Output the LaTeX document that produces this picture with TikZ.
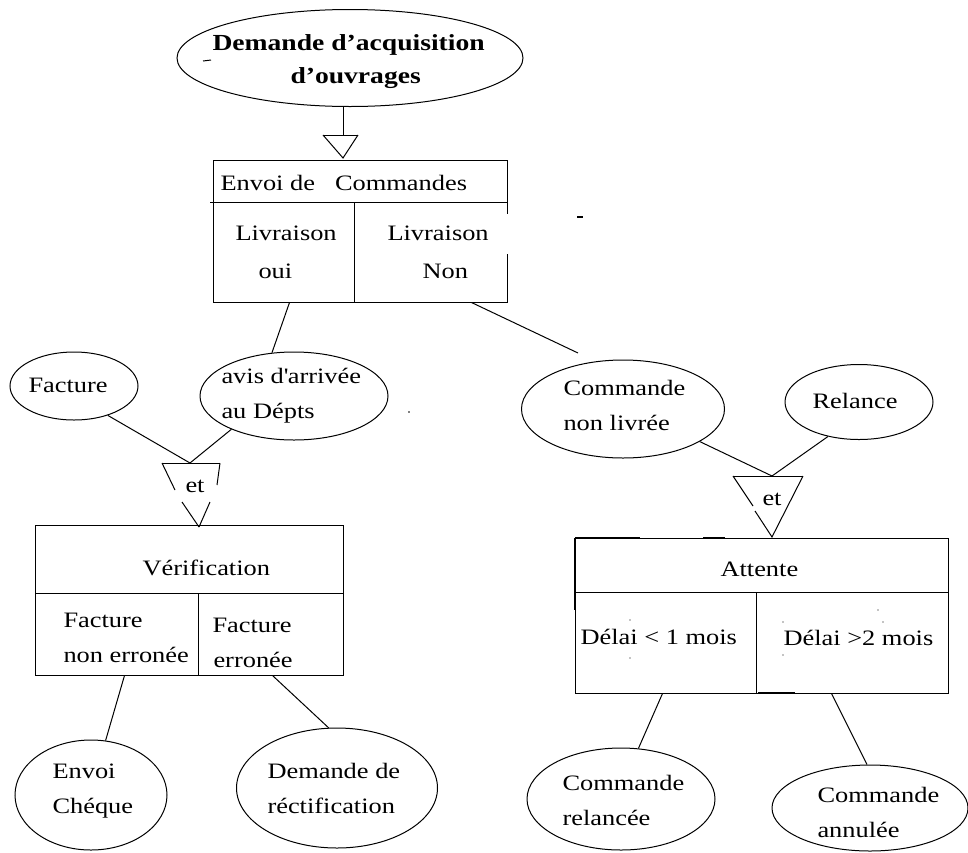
\documentclass[tikz,border=0pt]{standalone}
\usepackage{fontspec}
\setmainfont{Liberation Serif}[FakeStretch=1.2]
\usetikzlibrary{shapes.geometric,calc}
\begin{document}
\begin{tikzpicture}[x=1pt,y=-1pt,line width=1pt,
  ell/.style={draw, ellipse, inner sep=0pt},
  box/.style={draw, rectangle, inner sep=0pt},
  txt/.style={anchor=base west, inner sep=0pt, font=\fontsize{22}{26}\selectfont},
  ttl/.style={anchor=base west, inner sep=0pt, font=\fontsize{23}{28}\selectfont\bfseries},
  thick mark/.style={line width=2.5pt},
  speck/.style={fill=black}]
\useasboundingbox (0,0) rectangle (968,852);

% ---------- ellipses ----------
\node[ell, minimum width=346pt, minimum height=97pt] (title) at (350,58) {};
\node[ell, minimum width=128pt, minimum height=68pt] (fac) at (74,386) {};
\node[ell, minimum width=188pt, minimum height=88pt] (avis) at (294,396) {};
\node[ell, minimum width=203pt, minimum height=98pt] (cnl) at (623,409) {};
\node[ell, minimum width=148pt, minimum height=75pt] (rel) at (859,402) {};
\node[ell, minimum width=152pt, minimum height=110pt] (ec) at (91,795) {};
\node[ell, minimum width=201pt, minimum height=120pt] (dr) at (337,788) {};
\node[ell, minimum width=188pt, minimum height=102pt] (cr) at (621,799) {};
\node[ell, minimum width=196pt, minimum height=86pt] (ca) at (870,808) {};

% ---------- boxes ----------
\node[box, minimum width=294pt, minimum height=142pt] (envoi) at (360,231) {};
\draw (210,202) -- (507,202);
\draw (354,202) -- (354,302);
\draw[white, line width=2pt] (507,214) -- (507,254);

\node[box, minimum width=308pt, minimum height=150pt] (verif) at (189,600) {};
\draw (35,593) -- (343,593);
\draw (198,593) -- (198,675);

\node[box, minimum width=373pt, minimum height=155pt] (att) at (761.5,615.5) {};
\draw (575,592) -- (948,592);
\draw (756,592) -- (756,693);
\draw[thick mark] (575,538) -- (575,610);
\draw[thick mark] (575,538) -- (617,538);
\draw[line width=1.8pt] (617,538) -- (640,538);
\draw[thick mark] (703,538) -- (725,538);
\draw[thick mark] (758,693) -- (795,693);

% ---------- triangles ----------
\coordinate (t1top) at (343,135);
\draw (323,135) -- (358,135);
\draw (323,135) -- (343,158) -- (358,135);

\coordinate (t2top) at (190,463);
\draw (162,463) -- (220,463);
\draw (162,463) -- (175,490);
\draw (182,502) -- (199,527);
\draw (220,463) -- (217,485);
\draw (210,502) -- (199,527);

\coordinate (t3top) at (772,476);
\draw (733,476) -- (803,476);
\draw (733,476) -- (753,506);
\draw (755,511) -- (772,537) -- (803,476);

% ---------- connectors ----------
\draw (t1top |- title.south) -- (t1top);
\coordinate (cnlend) at (578,353);
\draw ($(envoi.south west)+(77,0)$) -- (avis.117);
\draw ($(envoi.south west)+(259,0)$) -- (cnlend);
\draw (fac.-41) -- (t2top);
\draw (avis.208) -- (t2top);
\draw (cnl.-23) -- (t3top);
\draw (rel.228) -- (t3top);
\draw ($(verif.south west)+(90,0)$) -- (ec.75);
\draw ($(verif.south west)+(238,0)$) -- (dr.98);
\draw ($(att.south west)+(88,0)$) -- (cr.71);
\draw ($(att.south west)+(257,0)$) -- (ca.94);

% ---------- specks ----------
\draw (203,61) -- (211,60);
\draw[line width=1.5pt] (577,217) -- (583,217);
\fill[speck] (409,412) circle (0.9pt);
\fill[speck] (630,620) circle (0.7pt);
\fill[speck] (630,658) circle (0.7pt);
\fill[speck] (783,622) circle (0.7pt);
\fill[speck] (783,655) circle (0.7pt);
\fill[speck] (878,610) circle (0.7pt);
\fill[speck] (883,622) circle (0.7pt);

% ---------- texts ----------
\node[ttl] (x1) at (212,50) {Demande d’acquisition};
\node[ttl] (x2) at (290,83) {d’ouvrages};
\node[txt] (x3) at (220,190) {Envoi de\hspace{20pt}Commandes};
\node[txt] (x4) at (235,240) {Livraison};
\node[txt] (x5) at (258,278) {oui};
\node[txt] (x6) at (387,240) {Livraison};
\node[txt] (x7) at (422,278) {Non};
\node[txt] (x8) at (28,392) {Facture};
\node[txt] (x9) at (221,383) {avis d\textquotesingle arrivée};
\node[txt] (x10) at (221,418) {au Dépts};
\node[txt] (x11) at (563,395) {Commande};
\node[txt] (x12) at (563,430) {non livrée};
\node[txt] (x13) at (812,408) {Relance};
\node[txt] (x14) at (185,492) {et};
\node[txt] (x15) at (762,505) {et};
\node[txt] (x16) at (142,575) {Vérification};
\node[txt] (x17) at (63,627) {Facture};
\node[txt] (x18) at (63,662) {non erronée};
\node[txt] (x19) at (212,632) {Facture};
\node[txt] (x20) at (213,667) {erronée};
\node[txt] (x21) at (720,576) {Attente};
\node[txt] (x22) at (580,644) {Délai < 1 mois};
\node[txt] (x23) at (783,645) {Délai >2 mois};
\node[txt] (x24) at (52,778) {Envoi};
\node[txt] (x25) at (52,813) {Chéque};
\node[txt] (x26) at (267,778) {Demande de};
\node[txt] (x27) at (267,813) {réctification};
\node[txt] (x28) at (562,790) {Commande};
\node[txt] (x29) at (562,825) {relancée};
\node[txt] (x30) at (817,802) {Commande};
\node[txt] (x31) at (817,837) {annulée};
\end{tikzpicture}
\end{document}
